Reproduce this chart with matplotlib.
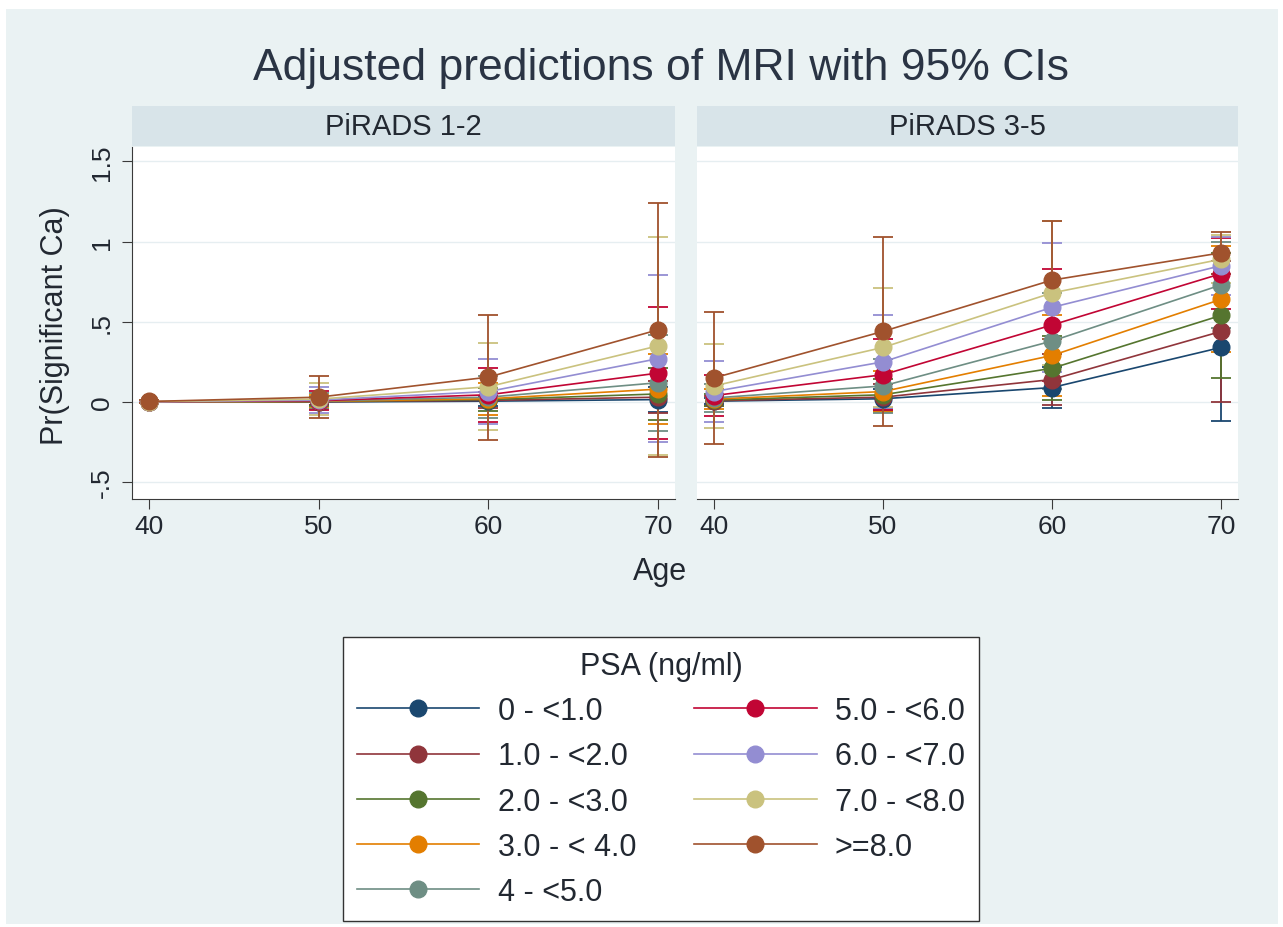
import matplotlib
matplotlib.use("Agg")
import matplotlib.pyplot as plt
from matplotlib.patches import Rectangle
from matplotlib.lines import Line2D

plt.rcParams['font.family'] = ['Liberation Sans', 'DejaVu Sans']

# Daten
ages = [40, 50, 60, 70]
panels = ["PiRADS 1-2", "PiRADS 3-5"]
psa_labels = ["0 - <1.0", "1.0 - <2.0", "2.0 - <3.0", "3.0 - < 4.0", "4 - <5.0",
              "5.0 - <6.0", "6.0 - <7.0", "7.0 - <8.0", ">=8.0"]
colors = ["#1a476f", "#90353b", "#55752f", "#e37e00", "#6e8e84",
          "#c10534", "#938dd2", "#cac27e", "#a0522d"]

# PiRADS 1-2: Vorhersage und halbe KI-Breite
pred_low = [
    [0.000, 0.000, 0.005, 0.015],
    [0.000, 0.002, 0.010, 0.030],
    [0.000, 0.003, 0.015, 0.050],
    [0.000, 0.004, 0.020, 0.080],
    [0.000, 0.006, 0.030, 0.120],
    [0.001, 0.008, 0.045, 0.180],
    [0.001, 0.012, 0.065, 0.270],
    [0.002, 0.018, 0.095, 0.350],
    [0.003, 0.030, 0.155, 0.450],
]
hw_low = [
    [0.005, 0.02, 0.03, 0.08],
    [0.005, 0.02, 0.05, 0.10],
    [0.005, 0.03, 0.07, 0.16],
    [0.005, 0.04, 0.10, 0.22],
    [0.005, 0.05, 0.13, 0.30],
    [0.005, 0.06, 0.17, 0.41],
    [0.005, 0.08, 0.20, 0.52],
    [0.010, 0.10, 0.27, 0.68],
    [0.010, 0.13, 0.39, 0.79],
]
# PiRADS 3-5
pred_high = [
    [0.005, 0.020, 0.09, 0.34],
    [0.008, 0.030, 0.14, 0.44],
    [0.012, 0.045, 0.21, 0.54],
    [0.018, 0.065, 0.29, 0.64],
    [0.025, 0.100, 0.38, 0.73],
    [0.040, 0.170, 0.48, 0.80],
    [0.065, 0.250, 0.59, 0.85],
    [0.100, 0.340, 0.68, 0.89],
    [0.150, 0.440, 0.76, 0.93],
]
hw_high = [
    [0.02, 0.06, 0.13, 0.46],
    [0.03, 0.08, 0.16, 0.44],
    [0.04, 0.10, 0.20, 0.39],
    [0.06, 0.13, 0.25, 0.33],
    [0.09, 0.17, 0.30, 0.27],
    [0.13, 0.22, 0.35, 0.22],
    [0.19, 0.29, 0.40, 0.18],
    [0.26, 0.37, 0.45, 0.15],
    [0.41, 0.59, 0.37, 0.13],
]
yticks = [-0.5, 0, 0.5, 1, 1.5]
ytick_labels = ["-.5", "0", ".5", "1", "1.5"]

W, H = 1283, 928
bg = "#eaf2f3"
strip_col = "#d8e4e9"
txt = "#222831"

fig = plt.figure(figsize=(W / 100, H / 100), dpi=100, facecolor="white")
fig.patches.append(Rectangle((6 / W, 3 / H), 1272 / W, 915 / H, transform=fig.transFigure,
                             facecolor=bg, edgecolor="none", zorder=-10))


def px(x0, y0, x1, y1):
    return [x0 / W, 1 - y1 / H, (x1 - x0) / W, (y1 - y0) / H]


axes_px = [(132, 148, 675, 500), (697, 148, 1238, 500)]
data = [(pred_low, hw_low), (pred_high, hw_high)]

for k, (x0, y0, x1, y1) in enumerate(axes_px):
    ax = fig.add_axes(px(x0, y0, x1, y1))
    ax.set_facecolor("white")
    pred, hw = data[k]

    # Konfidenzintervalle zuerst
    for i in range(len(psa_labels)):
        ax.errorbar(ages, pred[i], yerr=hw[i], fmt="none", ecolor=colors[i],
                    elinewidth=1.3, capsize=7, capthick=1.3, zorder=2)
    for i in range(len(psa_labels)):
        ax.plot(ages, pred[i], color=colors[i], lw=1.2, marker="o", ms=12,
                mec=colors[i], mfc=colors[i], zorder=3 + i)

    ax.set_xlim(39, 71)
    ax.set_ylim(-0.605, 1.59)
    ax.set_xticks(ages)
    ax.set_yticks(yticks)
    ax.grid(axis="y", color="#e6eef1", lw=1.0, zorder=0)
    ax.set_axisbelow(True)
    for s in ["top", "right"]:
        ax.spines[s].set_visible(False)
    ax.spines["bottom"].set_color("#3a3a3a")
    ax.spines["left"].set_color("#3a3a3a")
    ax.tick_params(axis="x", length=7, color="#3a3a3a", labelsize=19, labelcolor=txt, pad=4)
    if k == 0:
        ax.set_yticklabels(ytick_labels, rotation=90, va="center")
        ax.tick_params(axis="y", length=7, color="#3a3a3a", labelsize=19, labelcolor=txt, pad=6)
    else:
        ax.spines["left"].set_visible(False)
        ax.tick_params(axis="y", length=0, labelleft=False)

    # Streifen oben
    fig.patches.append(Rectangle((x0 / W, 1 - 147 / H), (x1 - x0) / W, 40 / H,
                                 transform=fig.transFigure, facecolor=strip_col,
                                 edgecolor="none", zorder=-5))
    fig.text((x0 + x1) / 2 / W, 1 - 127 / H, panels[k], ha="center", va="center",
             fontsize=21, color=txt)

fig.text(661 / W, 1 - 80 / H, "Adjusted predictions of MRI with 95% CIs",
         ha="center", va="baseline", fontsize=32, color="#2a3444")
fig.text(660 / W, 1 - 580 / H, "Age", ha="center", va="baseline", fontsize=22, color=txt)
fig.text(55 / W, 1 - 326 / H, "Pr(Significant Ca)", ha="center", va="center",
         rotation=90, fontsize=22, color=txt)

handles = [Line2D([], [], color=c, lw=1.2, marker="o", ms=12, mfc=c, mec=c) for c in colors]
leg = fig.legend(handles, psa_labels, ncol=2, loc="upper center",
                 bbox_to_anchor=(661 / W, 1 - 638 / H), title="PSA (ng/ml)",
                 fontsize=22, title_fontsize=22, frameon=True, fancybox=False,
                 edgecolor="#333333", facecolor="white", framealpha=1,
                 handlelength=4.0, handletextpad=0.6, columnspacing=1.9,
                 labelspacing=0.5, borderpad=0.45, borderaxespad=0)
leg.get_frame().set_linewidth(1.0)
for t in leg.get_texts():
    t.set_color(txt)
leg.get_title().set_color(txt)

fig.savefig("out.png", dpi=100, facecolor="white")
